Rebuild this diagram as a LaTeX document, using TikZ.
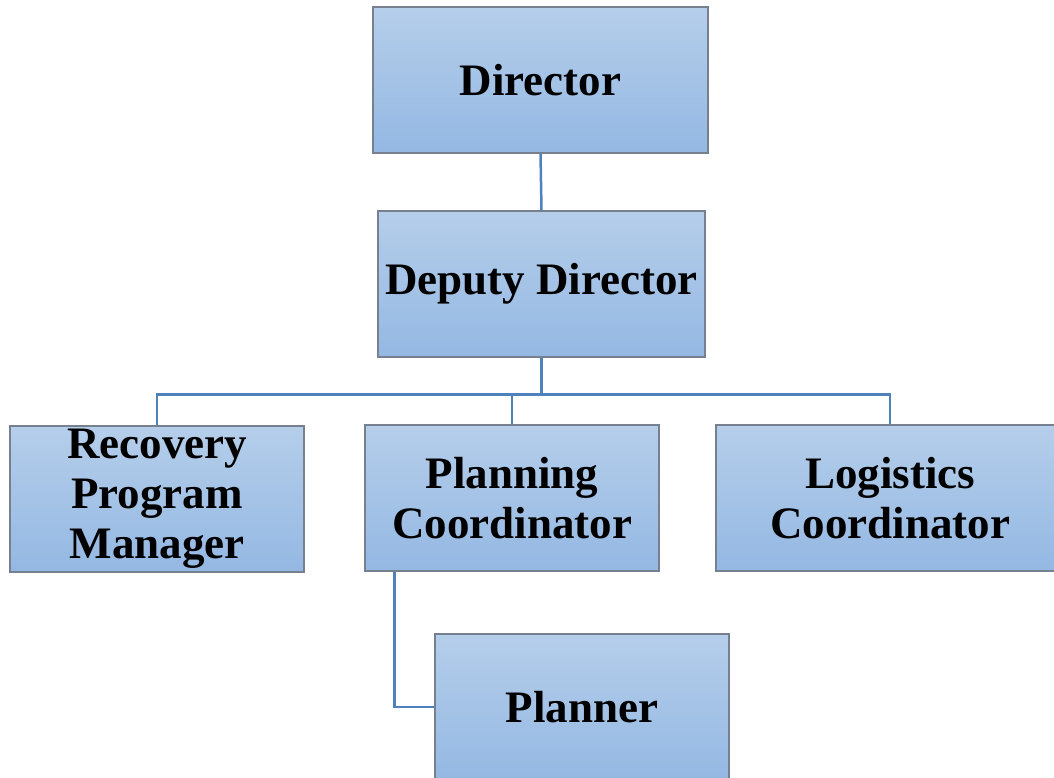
\documentclass[tikz,border=0pt]{standalone}
\usepackage{fontspec}
\setmainfont{Liberation Serif}
\usetikzlibrary{calc}
\definecolor{boxtop}{RGB}{181,206,234}
\definecolor{boxbot}{RGB}{148,184,227}
\definecolor{boxedge}{RGB}{118,128,142}
\definecolor{link}{RGB}{79,129,189}
\tikzset{
  orgbox/.style={rectangle, draw=boxedge, line width=1.2pt, top color=boxtop, bottom color=boxbot,
    minimum height=146pt, inner sep=0pt, align=center,
    font=\fontsize{45}{50}\selectfont\bfseries},
  orglink/.style={draw=link, line width=2.5pt}
}
\begin{document}
\begin{tikzpicture}[x=1pt,y=-1pt]
\useasboundingbox (0,0) rectangle (1054,778);
\clip (0,0) rectangle (1054,778);
\node[orgbox, minimum width=335pt] (dir) at (540.5,80) {Director};
\node[orgbox, minimum width=327pt] (dep) at (541.5,284) {Deputy Director};
\node[orgbox, minimum width=294pt] (rpm) at (157,499) {Recovery\\Program\\Manager};
\node[orgbox, minimum width=294pt] (pc) at (512,498) {Planning\\Coordinator};
\node[orgbox, minimum width=348pt] (lc) at (890,498) {Logistics\\Coordinator};
\node[orgbox, minimum width=294pt] (pl) at (582,707) {Planner};
\coordinate (bus) at ($(dep.south)+(0,37)$);
\coordinate (pcdrop) at ($(pc.south west)+(30,0)$);
\draw[orglink] (dir.south) -- (dep.north);
\draw[orglink] (dep.south) -- (bus);
\draw[orglink] (rpm.north) |- (bus) -| (lc.north);
\draw[orglink] (pc.north) -- (pc.north |- bus);
\draw[orglink] (pcdrop) |- (pl.west);
\end{tikzpicture}
\end{document}
